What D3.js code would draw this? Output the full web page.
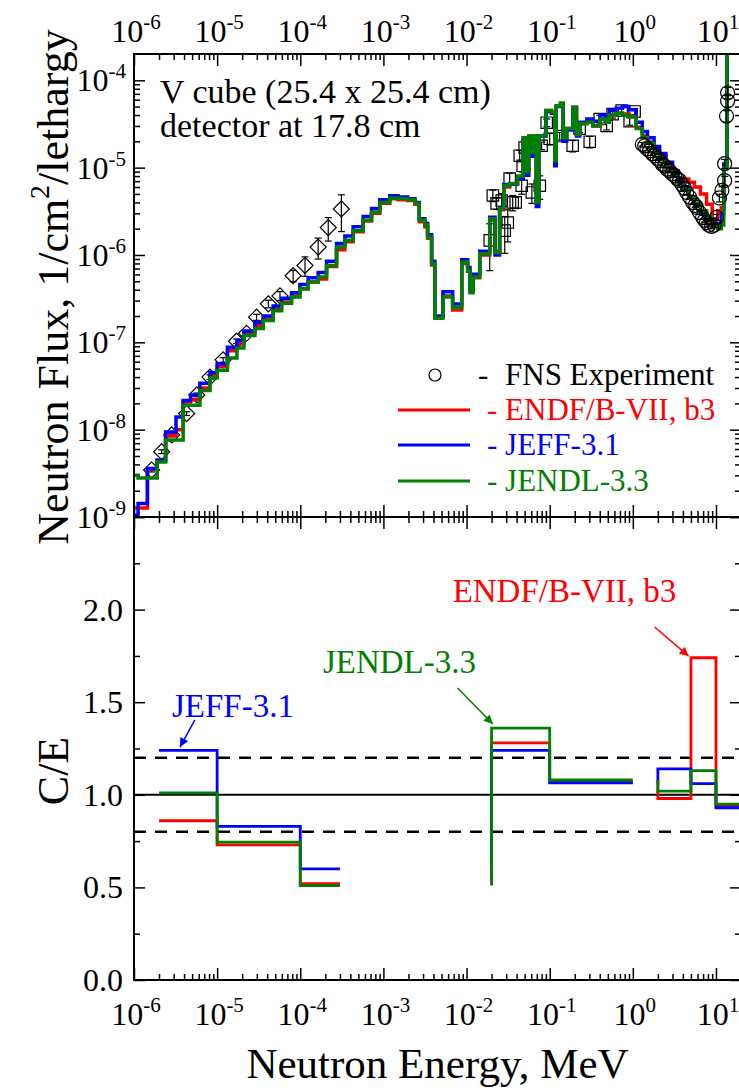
<!DOCTYPE html>
<html>
<head>
<meta charset="utf-8">
<script src="https://cdn.jsdelivr.net/npm/d3@7"></script>
<style>
  body { margin: 0; background: #fff; }
  svg { display: block; font-family: 'Liberation Serif', 'Times New Roman', serif; }
</style>
</head>
<body>
<svg width="739" height="1088"></svg>
<script>
// group lower bounds (MeV), last group ends at topEnd
const topEdges = [1.0e-6, 1.12e-6, 1.45e-6, 1.9e-6, 2.4e-6, 3.2e-6, 3.9e-6, 4.8e-6, 6.2e-6, 8.2e-6,
  1.0e-5, 1.33e-5, 1.73e-5, 2.1e-5, 2.84e-5, 3.58e-5, 4.72e-5, 5.96e-5, 7.85e-5, 9.9e-5,
  1.245e-4, 1.64e-4, 2.07e-4, 2.73e-4, 3.44e-4, 4.32e-4, 5.7e-4, 7.2e-4, 9.06e-4, 1.19e-3,
  1.5e-3, 1.96e-3, 2.4e-3, 2.7e-3, 3.15e-3, 3.4e-3, 3.8e-3, 4.15e-3, 5.2e-3, 6.8e-3,
  8.75e-3, 1.03e-2, 1.1e-2, 1.2e-2, 1.44e-2, 1.9e-2, 2.2e-2, 2.5e-2, 2.8e-2, 3.3e-2,
  4.1e-2, 4.8e-2, 5.3e-2, 5.6e-2, 6.2e-2, 6.5e-2, 6.9e-2, 7.4e-2, 9.0e-2, 0.105,
  0.115, 0.12, 0.135, 0.145, 0.16, 0.19, 0.21, 0.23, 0.28, 0.33,
  0.40, 0.47, 0.52, 0.63, 0.75, 0.90, 1.1, 1.3, 1.5, 1.8,
  2.1, 2.5, 3.0, 3.5, 4.0, 4.7, 5.5, 6.5, 7.7, 9.0,
  10.5, 11.6, 12.4, 13.6];
const topEnd = 20;

const fluxRed = [1.27e-9, 1.27e-9, 3.5e-9, 4.4e-9, 8.5e-9, 1.0e-8, 2.07e-8, 2.2e-8, 3.0e-8, 4.2e-8,
  5.3e-8, 8.0e-8, 9.6e-8, 1.28e-7, 1.55e-7, 1.85e-7, 2.4e-7, 2.9e-7, 3.4e-7, 4.1e-7,
  4.9e-7, 5.3e-7, 7.4e-7, 1.15e-6, 1.42e-6, 1.85e-6, 2.45e-6, 3.0e-6, 3.9e-6, 4.4e-6,
  4.3e-6, 4.2e-6, 3.8e-6, 2.4e-6, 2.1e-6, 1.55e-6, 7.7e-7, 1.95e-7, 3.4e-7, 2.35e-7,
  8.0e-7, 6.5e-7, 3.9e-7, 5.5e-7, 1.0e-6, 2.5e-6, 1.1e-6, 3.3e-6, 6.0e-6, 6.5e-6,
  7.8e-6, 2.2e-5, 9.0e-6, 2.3e-5, 1.5e-5, 2.3e-5, 4.0e-6, 2.3e-5, 4.5e-5, 4.3e-5,
  1.2e-5, 5.1e-5, 5.4e-5, 2.2e-5, 2.8e-5, 4.9e-5, 2.4e-5, 3.2e-5, 3.3e-5, 3.0e-5,
  3.6e-5, 3.4e-5, 4.0e-5, 4.2e-5, 4.1e-5, 3.9e-5, 2.9e-5, 2.3e-5, 1.95e-5, 1.55e-5,
  1.35e-5, 1.1e-5, 9.2e-6, 7.6e-6, 7.4e-6, 6.8e-6, 6.0e-6, 5.0e-6, 3.8e-6, 2.6e-6,
  3.2e-6, 3.5e-6, 1.0e-5, 1.0e-3];
const fluxBlue = [1.05e-9, 1.43e-9, 3.6e-9, 4.5e-9, 9.4e-9, 1.4e-8, 2.16e-8, 2.5e-8, 3.4e-8, 4.5e-8,
  5.7e-8, 8.8e-8, 1.05e-7, 1.35e-7, 1.7e-7, 2.0e-7, 2.6e-7, 3.2e-7, 3.7e-7, 4.6e-7,
  5.5e-7, 6.3e-7, 8.5e-7, 1.35e-6, 1.65e-6, 2.1e-6, 2.75e-6, 3.4e-6, 4.3e-6, 4.75e-6,
  4.6e-6, 4.4e-6, 4.0e-6, 2.6e-6, 2.3e-6, 1.7e-6, 8.5e-7, 2.0e-7, 3.8e-7, 2.75e-7,
  8.8e-7, 7.2e-7, 4.0e-7, 6.0e-7, 1.1e-6, 2.7e-6, 1.0e-6, 3.5e-6, 6.4e-6, 6.5e-6,
  7.5e-6, 2.1e-5, 8.2e-6, 2.2e-5, 1.35e-5, 2.2e-5, 3.6e-6, 2.3e-5, 4.4e-5, 4.2e-5,
  1.05e-5, 5.0e-5, 5.3e-5, 2.0e-5, 2.7e-5, 4.8e-5, 2.3e-5, 3.3e-5, 3.6e-5, 3.4e-5,
  4.0e-5, 3.8e-5, 4.5e-5, 4.8e-5, 5.0e-5, 4.6e-5, 3.3e-5, 2.6e-5, 2.2e-5, 1.75e-5,
  1.45e-5, 1.15e-5, 8.8e-6, 7.0e-6, 5.8e-6, 4.6e-6, 3.7e-6, 3.0e-6, 2.5e-6, 2.2e-6,
  2.3e-6, 3.0e-6, 1.1e-5, 1.0e-3];
const fluxGreen = [3.0e-9, 2.8e-9, 2.8e-9, 4.25e-9, 7.6e-9, 7.6e-9, 1.9e-8, 1.9e-8, 2.8e-8, 3.9e-8,
  4.8e-8, 6.6e-8, 8.6e-8, 1.2e-7, 1.44e-7, 1.78e-7, 2.3e-7, 2.8e-7, 3.3e-7, 4.1e-7,
  4.9e-7, 5.6e-7, 7.6e-7, 1.23e-6, 1.47e-6, 1.9e-6, 2.5e-6, 3.1e-6, 4.0e-6, 4.5e-6,
  4.4e-6, 4.3e-6, 3.9e-6, 2.5e-6, 2.2e-6, 1.6e-6, 8.0e-7, 1.88e-7, 3.3e-7, 2.5e-7,
  8.3e-7, 6.65e-7, 3.7e-7, 5.6e-7, 1.03e-6, 2.6e-6, 1.07e-6, 3.4e-6, 6.2e-6, 6.6e-6,
  8.0e-6, 2.2e-5, 9.0e-6, 2.3e-5, 1.5e-5, 2.3e-5, 4.0e-6, 2.3e-5, 4.5e-5, 4.3e-5,
  1.2e-5, 5.1e-5, 5.5e-5, 2.2e-5, 2.8e-5, 4.9e-5, 2.4e-5, 3.2e-5, 3.3e-5, 3.0e-5,
  3.6e-5, 3.3e-5, 4.0e-5, 4.2e-5, 4.0e-5, 3.8e-5, 2.8e-5, 2.2e-5, 1.9e-5, 1.5e-5,
  1.25e-5, 1.0e-5, 8.0e-6, 6.5e-6, 5.6e-6, 4.6e-6, 3.9e-6, 3.2e-6, 2.7e-6, 2.1e-6,
  2.0e-6, 2.2e-6, 1.0e-5, 1.0e-3];

// FNS measurements
const diamondE = [1.63e-6, 2.15e-6, 2.84e-6, 4.3e-6, 5.7e-6, 8.2e-6, 1.18e-5, 1.71e-5, 2.26e-5,
  2.98e-5, 4.13e-5, 5.7e-5, 8.2e-5, 1.14e-4, 1.64e-4, 2.17e-4, 3.12e-4];
const diamondF = [3.45e-9, 5.6e-9, 8.7e-9, 1.53e-8, 2.5e-8, 4.0e-8, 6.3e-8, 1.03e-7, 1.27e-7,
  1.94e-7, 2.76e-7, 3.4e-7, 5.8e-7, 7.6e-7, 1.23e-6, 2.06e-6, 3.37e-6];
const diamondErr = [0.05, 0.05, 0.05, 0.05, 0.05, 0.06, 0.06, 0.06, 0.07,
  0.08, 0.1, 0.12, 0.15, 0.25, 0.27, 0.3, 0.45];

const squareE = [1.9e-2, 2.07e-2, 2.3e-2, 2.65e-2, 2.88e-2, 3.13e-2, 3.3e-2, 3.59e-2, 3.9e-2, 4.36e-2,
  4.6e-2, 4.73e-2, 5.0e-2, 6.1e-2, 7.6e-2, 8.0e-2, 9.2e-2, 0.1, 0.132, 0.189,
  0.229, 0.303, 0.4, 0.484, 0.571, 0.733, 0.916, 1.05];
const squareF = [1.47e-6, 4.8e-6, 3.9e-6, 4.2e-6, 1.9e-6, 2.35e-6, 7.5e-6, 4.0e-6, 4.0e-6, 1.37e-5,
  6.2e-6, 1.05e-5, 1.7e-5, 5.2e-6, 6.2e-6, 1.78e-5, 3.27e-5, 2.14e-5, 2.3e-5, 1.78e-5,
  2.8e-5, 1.98e-5, 3.6e-5, 3.0e-5, 4.1e-5, 4.5e-5, 3.4e-5, 4.4e-5];
const squareErr = [0.55, 0.15, 0.15, 0.2, 0.45, 0.4, 0.15, 0.2, 0.15, 0.15,
  0.2, 0.15, 0.1, 0.25, 0.3, 0.1, 0.1, 0.15, 0.1, 0.15,
  0.1, 0.15, 0.1, 0.1, 0.1, 0.08, 0.1, 0.08];

const circleE = [1.30, 1.39, 1.48, 1.59, 1.70, 1.83, 1.96, 2.10, 2.25, 2.41,
  2.58, 2.77, 2.97, 3.18, 3.40, 3.65, 3.90, 4.18, 4.44, 4.82,
  5.24, 5.60, 5.85, 6.35, 6.9, 7.3, 7.7, 8.2, 8.85, 9.5,
  10.2, 11.0, 11.8, 12.7, 12.7, 13.4, 13.8, 13.8];
const circleF = [1.85e-5, 1.78e-5, 1.65e-5, 1.56e-5, 1.45e-5, 1.37e-5, 1.28e-5, 1.2e-5, 1.1e-5, 1.05e-5,
  9.6e-6, 9.2e-6, 8.5e-6, 8.1e-6, 7.5e-6, 7.1e-6, 6.4e-6, 5.8e-6, 5.2e-6, 4.6e-6,
  4.0e-6, 3.7e-6, 3.5e-6, 3.06e-6, 2.7e-6, 2.5e-6, 2.35e-6, 2.2e-6, 2.12e-6, 2.2e-6,
  2.7e-6, 4.5e-6, 5.5e-6, 7.1e-6, 1.11e-5, 3.9e-5, 5.8e-5, 7.2e-5];
const circleErr = [0.05, 0.05, 0.05, 0.05, 0.05, 0.05, 0.05, 0.05, 0.05, 0.05,
  0.05, 0.05, 0.05, 0.05, 0.05, 0.05, 0.05, 0.05, 0.05, 0.05,
  0.05, 0.05, 0.05, 0.05, 0.05, 0.05, 0.05, 0.05, 0.06, 0.06,
  0.08, 0.1, 0.1, 0.12, 0.12, 0.15, 0.15, 0.15];

// C/E per energy interval
const ceLow = [2e-6, 1e-5, 1e-4, 2e-2, 1e-1, 2, 5, 10];
const ceHigh = [1e-5, 1e-4, 3e-4, 1e-1, 1, 5, 10, 20];
const ceRed = [0.86, 0.73, 0.52, 1.28, 1.07, 0.98, 1.74, 0.94];
const ceBlue = [1.24, 0.83, 0.60, 1.24, 1.065, 1.14, 1.06, 0.93];
const ceGreen = [1.01, 0.745, 0.51, 1.36, 1.08, 1.02, 1.13, 0.95];

const xMajor = [1e-6, 1e-5, 1e-4, 1e-3, 1e-2, 1e-1, 1e0, 1e1];
const xExp = [-6, -5, -4, -3, -2, -1, 0, 1];
const yTopMajor = [1e-9, 1e-8, 1e-7, 1e-6, 1e-5, 1e-4];
const yTopExp = [-9, -8, -7, -6, -5, -4];
const yBotMajor = [0, 0.5, 1.0, 1.5, 2.0, 2.5];
const yBotLabels = ['0.0', '0.5', '1.0', '1.5', '2.0'];
const yBotMinor = [0.25, 0.75, 1.25, 1.75, 2.25];

const RED = '#ff0000', BLUE = '#0000ff', GREEN = '#008000';

const svg = d3.select('svg');
const xL = 134, xR = 741, yT = 54, yM = 517, yB = 980;

const x = d3.scaleLog().domain([1e-6, 20]).range([xL, xR]);
const yTop = d3.scaleLog().domain([1e-9, 2e-4]).range([yM, yT]);
const yBot = d3.scaleLinear().domain([0, 2.5]).range([yB, yM]);

const isMajor = v => Math.abs(Math.log10(v) - Math.round(Math.log10(v))) < 1e-6;
const xMinor = x.ticks().filter(v => !isMajor(v) && v < 20);
const yTopMinor = yTop.ticks().filter(v => !isMajor(v) && v < 2e-4);

const defs = svg.append('defs');
defs.append('clipPath').attr('id', 'clipTop')
  .append('rect').attr('x', xL).attr('y', yT).attr('width', xR - xL).attr('height', yM - yT);
defs.append('clipPath').attr('id', 'clipBot')
  .append('rect').attr('x', xL).attr('y', yM).attr('width', xR - xL).attr('height', yB - yM);

// ---- ticks
function tickGroup(axis, vals, size, tx, ty) {
  const g = svg.append('g').attr('transform', `translate(${tx},${ty})`)
    .call(axis.tickValues(vals).tickSize(size).tickFormat(''));
  g.select('.domain').remove();
  g.selectAll('line').attr('stroke', '#000').attr('stroke-width', 1.5);
  return g;
}
tickGroup(d3.axisBottom(x), xMajor, 12, 0, yT);
tickGroup(d3.axisBottom(x), xMinor, 6, 0, yT);
tickGroup(d3.axisTop(x), xMajor, 12, 0, yM);
tickGroup(d3.axisTop(x), xMinor, 6, 0, yM);
tickGroup(d3.axisBottom(x), xMajor, 12, 0, yM);
tickGroup(d3.axisBottom(x), xMinor, 6, 0, yM);
tickGroup(d3.axisTop(x), xMajor, 12, 0, yB);
tickGroup(d3.axisTop(x), xMinor, 6, 0, yB);

tickGroup(d3.axisRight(yTop), yTopMajor, 11, xL, 0);
tickGroup(d3.axisRight(yTop), yTopMinor, 6, xL, 0);
tickGroup(d3.axisLeft(yTop), yTopMajor, 11, xR, 0);
tickGroup(d3.axisLeft(yTop), yTopMinor, 6, xR, 0);
tickGroup(d3.axisRight(yBot), yBotMajor, 11, xL, 0);
tickGroup(d3.axisRight(yBot), yBotMinor, 6, xL, 0);
tickGroup(d3.axisLeft(yBot), yBotMajor, 11, xR, 0);
tickGroup(d3.axisLeft(yBot), yBotMinor, 6, xR, 0);

// ---- tick labels
function powerLabel(sel, e) {
  sel.append('tspan').text('10');
  sel.append('tspan').attr('dy', -13).attr('font-size', 21).text(`${e}`);
}
xMajor.forEach((v, i) => {
  svg.append('text').attr('x', x(v) + 2).attr('y', 42).attr('text-anchor', 'middle')
    .attr('font-size', 32).call(powerLabel, xExp[i]);
  svg.append('text').attr('x', x(v) + 2).attr('y', 1025).attr('text-anchor', 'middle')
    .attr('font-size', 32).call(powerLabel, xExp[i]);
});
yTopMajor.forEach((v, i) => {
  svg.append('text').attr('x', 126).attr('y', yTop(v) + 11).attr('text-anchor', 'end')
    .attr('font-size', 32).call(powerLabel, yTopExp[i]);
});
yBotLabels.forEach((t, i) => {
  svg.append('text').attr('x', 123).attr('y', yBot(yBotMajor[i]) + 11).attr('text-anchor', 'end')
    .attr('font-size', 32).text(t);
});

// ---- axis titles
const yt = svg.append('text').attr('transform', 'translate(68,287) rotate(-90)')
  .attr('text-anchor', 'middle').attr('font-size', 44);
yt.append('tspan').text('Neutron Flux, 1/cm');
yt.append('tspan').attr('dy', -19).attr('font-size', 28).text('2');
yt.append('tspan').attr('dy', 19).text('/lethargy');
svg.append('text').attr('transform', 'translate(68,771) rotate(-90)')
  .attr('text-anchor', 'middle').attr('font-size', 44).text('C/E');
svg.append('text').attr('x', (xL + xR) / 2).attr('y', 1078)
  .attr('text-anchor', 'middle').attr('font-size', 43).text('Neutron Energy, MeV');

// ---- top panel: experiment
const pTop = svg.append('g').attr('clip-path', 'url(#clipTop)');

function errBars(E, F, err) {
  const g = pTop.append('g').attr('stroke', '#000').attr('stroke-width', 1.2);
  E.forEach((e, i) => {
    const x0 = x(e), y0 = yTop(F[i] * (1 + err[i])), y1 = yTop(F[i] * (1 - err[i]));
    g.append('line').attr('x1', x0).attr('x2', x0).attr('y1', y0).attr('y2', y1);
    g.append('line').attr('x1', x0 - 3.5).attr('x2', x0 + 3.5).attr('y1', y0).attr('y2', y0);
    g.append('line').attr('x1', x0 - 3.5).attr('x2', x0 + 3.5).attr('y1', y1).attr('y2', y1);
  });
}
errBars(diamondE, diamondF, diamondErr);
errBars(squareE, squareF, squareErr);

pTop.append('g').selectAll('path').data(diamondE).join('path')
  .attr('d', d3.symbol(d3.symbolSquare, 128))
  .attr('transform', (d, i) => `translate(${x(d)},${yTop(diamondF[i])}) rotate(45)`)
  .attr('fill', 'none').attr('stroke', '#000').attr('stroke-width', 1.2);

pTop.append('g').selectAll('path').data(squareE).join('path')
  .attr('d', d3.symbol(d3.symbolSquare, 130))
  .attr('transform', (d, i) => `translate(${x(d)},${yTop(squareF[i])})`)
  .attr('fill', 'none').attr('stroke', '#000').attr('stroke-width', 1.2);

// ---- top panel: calculations
const fluxLine = d3.line().x(d => x(d[0])).y(d => yTop(d[1])).curve(d3.curveStepAfter);
const stepPoints = vals => vals.map((v, i) => [topEdges[i], v]).concat([[topEnd, vals[vals.length - 1]]]);
[[fluxRed, RED], [fluxBlue, BLUE], [fluxGreen, GREEN]].forEach(([vals, c]) => {
  pTop.append('path').attr('d', fluxLine(stepPoints(vals)))
    .attr('fill', 'none').attr('stroke', c).attr('stroke-width', 3.5);
});

errBars(circleE, circleF, circleErr);
pTop.append('g').selectAll('circle').data(circleE).join('circle')
  .attr('cx', d => x(d)).attr('cy', (d, i) => yTop(circleF[i])).attr('r', 7)
  .attr('fill', 'none').attr('stroke', '#000').attr('stroke-width', 1.2);

// ---- annotations top
svg.append('text').attr('x', 160).attr('y', 103).attr('font-size', 34).text('V cube (25.4 x 25.4 cm)');
svg.append('text').attr('x', 160).attr('y', 137).attr('font-size', 34).text('detector at 17.8 cm');

// ---- legend
const legend = [
  { label: 'FNS Experiment', color: '#000', y: 375 },
  { label: 'ENDF/B-VII, b3', color: RED, y: 410 },
  { label: 'JEFF-3.1', color: BLUE, y: 445 },
  { label: 'JENDL-3.3', color: GREEN, y: 481 }
];
svg.append('circle').attr('cx', 435).attr('cy', legend[0].y).attr('r', 6)
  .attr('fill', 'none').attr('stroke', '#000').attr('stroke-width', 1.2);
svg.append('text').attr('x', 478).attr('y', legend[0].y + 10).attr('font-size', 31).text('-');
svg.append('text').attr('x', 505).attr('y', legend[0].y + 10).attr('font-size', 31).text(legend[0].label);
legend.slice(1).forEach(d => {
  svg.append('line').attr('x1', 398).attr('x2', 470).attr('y1', d.y).attr('y2', d.y)
    .attr('stroke', d.color).attr('stroke-width', 3);
  svg.append('text').attr('x', 487).attr('y', d.y + 10).attr('font-size', 31)
    .attr('fill', d.color).text('- ' + d.label);
});

// ---- bottom panel
const pBot = svg.append('g').attr('clip-path', 'url(#clipBot)');
pBot.append('line').attr('x1', xL).attr('x2', xR).attr('y1', yBot(1)).attr('y2', yBot(1))
  .attr('stroke', '#000').attr('stroke-width', 2);
[0.8, 1.2].forEach(v => {
  pBot.append('line').attr('x1', xL).attr('x2', xR).attr('y1', yBot(v)).attr('y2', yBot(v))
    .attr('stroke', '#000').attr('stroke-width', 2.5).attr('stroke-dasharray', '12,9');
});

function cePath(vals) {
  const p = d3.path();
  vals.forEach((v, i) => {
    if (i === 0) p.moveTo(x(ceLow[i]), yBot(v));
    else if (ceLow[i] !== ceHigh[i - 1]) {
      p.moveTo(x(ceLow[i]), yBot(vals[i - 1]));
      p.lineTo(x(ceLow[i]), yBot(v));
    } else p.lineTo(x(ceLow[i]), yBot(v));
    p.lineTo(x(ceHigh[i]), yBot(v));
  });
  return p.toString();
}
[[ceRed, RED], [ceBlue, BLUE], [ceGreen, GREEN]].forEach(([vals, c]) => {
  pBot.append('path').attr('d', cePath(vals)).attr('fill', 'none')
    .attr('stroke', c).attr('stroke-width', 2.8);
});

// ---- bottom annotations
[RED, BLUE, GREEN].forEach(c => {
  defs.append('marker').attr('id', 'arr' + c.slice(1)).attr('viewBox', '0 0 10 10')
    .attr('refX', 10).attr('refY', 5).attr('markerWidth', 13).attr('markerHeight', 9)
    .attr('markerUnits', 'userSpaceOnUse').attr('orient', 'auto')
    .append('path').attr('d', 'M0,0L10,5L0,10Z').attr('fill', c);
});
const notes = [
  { text: 'JEFF-3.1', color: BLUE, tx: 2.86e-6, ty: 1.42, a: [5.4e-6, 1.404, 3.57e-6, 1.258] },
  { text: 'JENDL-3.3', color: GREEN, tx: 1.87e-4, ty: 1.658, a: [7.8e-3, 1.577, 2.07e-2, 1.382] },
  { text: 'ENDF/B-VII, b3', color: RED, tx: 6.8e-3, ty: 2.041, a: [1.83, 1.906, 4.69, 1.749] }
];
notes.forEach(n => {
  svg.append('text').attr('x', x(n.tx)).attr('y', yBot(n.ty)).attr('font-size', 33)
    .attr('fill', n.color).text(n.text);
  svg.append('line').attr('x1', x(n.a[0])).attr('y1', yBot(n.a[1]))
    .attr('x2', x(n.a[2])).attr('y2', yBot(n.a[3]))
    .attr('stroke', n.color).attr('stroke-width', 1.5)
    .attr('marker-end', `url(#arr${n.color.slice(1)})`);
});

// ---- frames
[[yT, yM], [yM, yB]].forEach(([a, b]) => {
  svg.append('rect').attr('x', xL).attr('y', a).attr('width', xR - xL).attr('height', b - a)
    .attr('fill', 'none').attr('stroke', '#000').attr('stroke-width', 2);
});
</script>
</body>
</html>
